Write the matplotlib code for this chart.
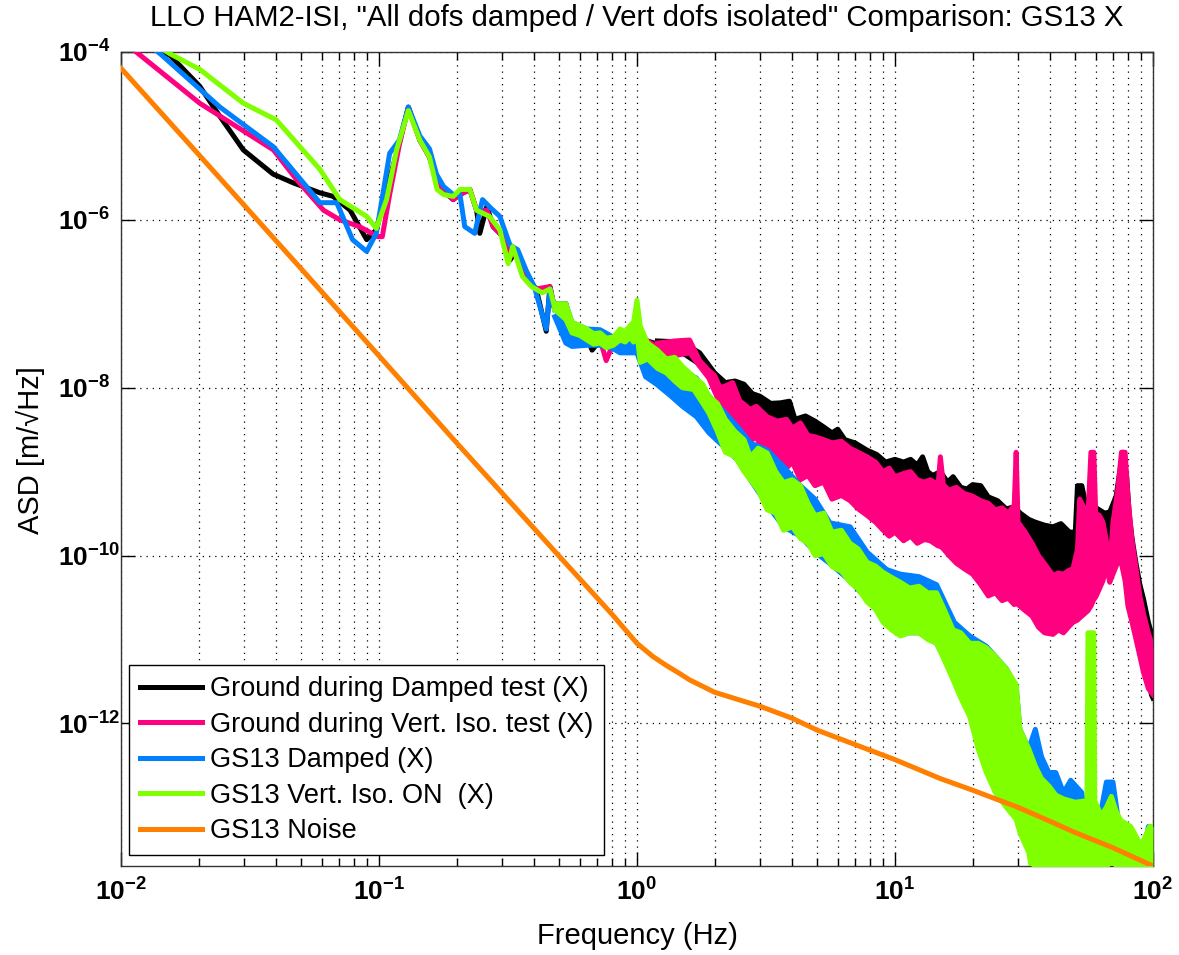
import numpy as np
import matplotlib
matplotlib.use('Agg')
import matplotlib.pyplot as plt
from matplotlib.ticker import FuncFormatter, NullLocator

plt.rcParams['font.family'] = ['Liberation Sans', 'DejaVu Sans']
plt.rcParams['mathtext.fontset'] = 'custom'
plt.rcParams['mathtext.rm'] = 'Liberation Sans'
plt.rcParams['mathtext.it'] = 'Liberation Sans:italic'
plt.rcParams['mathtext.bf'] = 'Liberation Sans:bold'

# ---- Ground during Damped test (X) ----
# low-frequency trace: frequency [Hz], ASD [m/rtHz]
gd_f = [0.010, 0.0155, 0.0202, 0.0242, 0.0298, 0.0389, 0.0466, 0.059, 0.0665, 0.0773,
        0.0896, 0.0977, 0.107, 0.118, 0.130, 0.144, 0.157, 0.167, 0.178, 0.194,
        0.206, 0.225, 0.239, 0.246, 0.262, 0.277, 0.312, 0.322, 0.342, 0.372,
        0.407, 0.445, 0.46, 0.48, 0.53, 0.56, 0.64, 0.67, 0.72, 0.81, 0.9, 1.0, 1.1, 1.2]
gd_asd = [1.8e-4, 9.1e-5, 3.9e-5, 1.7e-5, 6.8e-6, 3.5e-6, 2.75e-6, 2.1e-6, 1.9e-6, 1.3e-6,
          5.8e-7, 7.6e-7, 2.3e-6, 6.8e-6, 2.2e-5, 8.9e-6, 5.6e-6, 3.0e-6, 2.2e-6, 1.74e-6,
          2.0e-6, 2.3e-6, 1.3e-6, 6.9e-7, 1.45e-6, 8.3e-7, 5.75e-7, 3.3e-7, 4.4e-7, 2.1e-7,
          1.5e-7, 4.7e-8, 1.6e-7, 8.5e-8, 1.0e-7, 4.9e-8, 4.0e-8, 2.8e-8, 3.7e-8, 3.4e-8,
          3.0e-8, 3.6e-8, 3.6e-8, 3.3e-8]
# noisy part: frequency, lower envelope, upper envelope
gd_band = np.array([
    [1.2, 3.0e-8, 3.6e-8], [1.5, 2.6e-8, 3.5e-8], [1.75, 1.9e-8, 2.6e-8], [2.0, 1.1e-8, 1.5e-8],
    [2.2, 8e-9, 1.15e-8], [2.4, 6e-9, 1.2e-8], [2.6, 5e-9, 1.1e-8], [2.8, 4e-9, 8.5e-9],
    [3.0, 3.5e-9, 7.9e-9], [3.3, 3e-9, 6.5e-9], [3.6, 2.6e-9, 6.6e-9], [3.9, 2.3e-9, 6.9e-9],
    [4.1, 2.0e-9, 4.2e-9], [4.5, 1.8e-9, 4.6e-9], [4.9, 1.5e-9, 4.0e-9], [5.3, 1.2e-9, 3.4e-9],
    [5.7, 1.0e-9, 2.9e-9], [6.0, 9.5e-10, 3.2e-9], [6.4, 8.5e-10, 2.4e-9], [7.0, 7e-10, 2.2e-9],
    [7.8, 6e-10, 1.8e-9], [8.5, 5e-10, 1.6e-9], [9.2, 4.5e-10, 1.3e-9], [10, 4e-10, 1.4e-9],
    [10.8, 3.8e-10, 1.3e-9], [11.5, 3.5e-10, 1.4e-9], [12.2, 3.2e-10, 1.2e-9], [12.8, 3e-10, 1.5e-9],
    [13.4, 2.8e-10, 1.0e-9], [14, 2.5e-10, 9e-10], [15, 2.3e-10, 1.0e-9], [16, 2.1e-10, 7.5e-10],
    [16.8, 2e-10, 8.7e-10], [18, 1.7e-10, 6.5e-10], [19, 1.5e-10, 6.2e-10], [20, 1.4e-10, 7e-10],
    [21.5, 1.3e-10, 6.8e-10], [23, 1.15e-10, 5e-10], [25, 1.0e-10, 4.5e-10], [27, 8.5e-11, 3.6e-10],
    [29, 7.5e-11, 3.8e-10], [30.6, 7e-11, 3.2e-10], [33, 6.5e-11, 2.7e-10], [35, 6e-11, 2.5e-10],
    [38, 5.8e-11, 2.3e-10], [41, 5.5e-11, 2.2e-10], [44, 5.8e-11, 2.4e-10], [47.5, 6.2e-11, 1.9e-10],
    [50, 9e-11, 1.9e-10], [51, 1.5e-10, 6.8e-10], [53, 1.5e-10, 6.8e-10], [55, 1.5e-10, 4e-10],
    [58, 1.5e-10, 4e-10], [62, 1.5e-10, 3.5e-10], [65, 1.3e-10, 3.2e-10], [68, 1.2e-10, 3.3e-10],
    [72, 2e-10, 5.1e-10], [74, 3e-10, 9e-10], [76.5, 4e-10, 1.7e-9], [79, 2.5e-10, 9e-10],
    [81, 1e-10, 3e-10], [83, 6e-11, 1.6e-10], [86, 3e-11, 8e-11], [89, 1.5e-11, 4.5e-11],
    [92, 1e-11, 3e-11], [96, 4e-12, 1.6e-11], [98.6, 2.2e-12, 1.2e-11], [100, 2.0e-12, 1.0e-11]])

# ---- Ground during Vert. Iso. test (X) ----
gv_f = [0.010, 0.0202, 0.039, 0.048, 0.061, 0.0705, 0.084, 0.099, 0.103, 0.11, 0.12, 0.130,
        0.144, 0.157, 0.167, 0.178, 0.194, 0.206, 0.225, 0.239, 0.262, 0.277, 0.312, 0.322,
        0.342, 0.372, 0.407, 0.46, 0.48, 0.53, 0.56, 0.64, 0.72, 0.76, 0.81, 0.9, 1.0, 1.1, 1.2]
gv_asd = [1.4e-4, 2.45e-5, 6.8e-6, 3.0e-6, 1.3e-6, 1.0e-6, 8.3e-7, 6.3e-7, 6.3e-7, 2.0e-6,
          7.9e-6, 2.2e-5, 8.9e-6, 5.6e-6, 3.0e-6, 2.2e-6, 1.74e-6, 2.0e-6, 2.3e-6, 1.3e-6,
          1.3e-6, 8.3e-7, 5.75e-7, 3.6e-7, 4.4e-7, 2.1e-7, 1.5e-7, 1.6e-7, 8.5e-8, 1.0e-7,
          4.9e-8, 4.0e-8, 3.7e-8, 2.1e-8, 3.4e-8, 3.0e-8, 3.6e-8, 3.6e-8, 3.0e-8]
gv_band = np.array([
    [1.2, 2.6e-8, 3.4e-8], [1.4, 2.4e-8, 3.6e-8], [1.6, 2.6e-8, 3.7e-8], [1.75, 1.8e-8, 2.1e-8],
    [1.9, 1.3e-8, 1.6e-8], [2.0, 9e-9, 1.4e-8], [2.1, 6.5e-9, 1.0e-8], [2.2, 5.5e-9, 1.05e-8],
    [2.35, 3.5e-9, 1.15e-8], [2.5, 3.8e-9, 7e-9], [2.75, 2.3e-9, 5.5e-9], [2.9, 2.6e-9, 6e-9],
    [3.2, 1.3e-9, 4.5e-9], [3.5, 1.6e-9, 4.0e-9], [3.8, 1.1e-9, 4.2e-9], [4.0, 1.3e-9, 3.3e-9],
    [4.3, 8e-10, 3.8e-9], [4.6, 9e-10, 2.7e-9], [4.9, 6.8e-10, 2.6e-9], [5.3, 7.5e-10, 2.4e-9],
    [5.7, 4.7e-10, 2.2e-9], [6.2, 5.2e-10, 2.3e-9], [6.7, 4.5e-10, 1.9e-9], [7.2, 3.6e-10, 1.7e-9],
    [7.8, 3.0e-10, 1.5e-9], [8.4, 2.5e-10, 1.3e-9], [9.0, 2.0e-10, 1.0e-9], [9.5, 1.7e-10, 1.1e-9],
    [10, 1.9e-10, 8.7e-10], [10.8, 1.5e-10, 9.5e-10], [11.5, 1.7e-10, 1.0e-9], [12.2, 1.4e-10, 8e-10],
    [13, 1.55e-10, 7.5e-10], [13.7, 1.5e-10, 8e-10], [14.7, 1.3e-10, 7e-10], [15, 1.3e-10, 1.5e-9],
    [15.4, 1.2e-10, 7e-10], [16.2, 1.0e-10, 6e-10], [17.3, 8.1e-11, 6.5e-10], [18.5, 7e-11, 5.5e-10],
    [20, 6e-11, 5.1e-10], [21.5, 4.5e-11, 4.5e-10], [23, 3.3e-11, 4.2e-10], [24.5, 3.6e-11, 3.5e-10],
    [26, 2.9e-11, 3.7e-10], [27.5, 3.1e-11, 3.2e-10], [29, 2.6e-11, 4.0e-10], [29.5, 2.8e-11, 1.7e-9],
    [30, 2.6e-11, 2.5e-10], [32, 2.2e-11, 1.9e-10], [34, 1.9e-11, 1.4e-10], [36, 1.4e-11, 1.0e-10],
    [38, 1.2e-11, 8e-11], [41, 1.15e-11, 5.8e-11], [43, 1.3e-11, 6.2e-11], [45, 1.2e-11, 6e-11],
    [47, 1.4e-11, 6.6e-11], [49, 1.6e-11, 7e-11], [51, 1.7e-11, 1.2e-10], [52, 1.8e-11, 4.7e-10],
    [56, 2.2e-11, 3e-10], [57.5, 2.5e-11, 1.7e-9], [59, 3e-11, 1.7e-9], [60, 3.2e-11, 3.2e-10],
    [62, 4e-11, 3.0e-10], [64, 5e-11, 2.5e-10], [66, 7.6e-11, 1.5e-10], [67, 6e-11, 8e-11],
    [68, 4.8e-11, 7e-11], [70, 6e-11, 2.5e-10], [73, 8.3e-11, 6e-10], [75.5, 8e-11, 1.7e-9],
    [78, 5e-11, 1.7e-9], [80, 2.5e-11, 5e-10], [83, 1.6e-11, 1.5e-10], [86, 1.0e-11, 7e-11],
    [89, 6.3e-12, 3.3e-11], [92, 4e-12, 2.0e-11], [96, 2.6e-12, 1.2e-11], [100, 2.2e-12, 8e-12]])

# ---- GS13 Damped (X) ----
sd_f = [0.010, 0.0142, 0.0242, 0.039, 0.059, 0.0686, 0.079, 0.0896, 0.0977, 0.110, 0.120, 0.130,
        0.144, 0.157, 0.167, 0.178, 0.194, 0.206, 0.215, 0.235, 0.252, 0.27, 0.294, 0.322, 0.345,
        0.372, 0.4, 0.445, 0.46, 0.48]
sd_asd = [2.2e-4, 9.5e-5, 2.2e-5, 7.4e-6, 1.6e-6, 1.6e-6, 5.8e-7, 4.2e-7, 6.9e-7, 6.2e-6, 8.9e-6,
          2.2e-5, 1.0e-5, 7e-6, 3.5e-6, 2.5e-6, 2.0e-6, 2.0e-6, 8.3e-7, 6.9e-7, 1.74e-6, 1.4e-6,
          1.1e-6, 5e-7, 4.4e-7, 2.5e-7, 1.6e-7, 5e-8, 1.5e-7, 8.5e-8]
sd_band = np.array([
    [0.48, 7e-8, 1.0e-7], [0.53, 3.4e-8, 1.0e-7], [0.56, 3.1e-8, 6e-8], [0.64, 3.2e-8, 5e-8],
    [0.72, 3.2e-8, 4.9e-8], [0.81, 2.9e-8, 4.0e-8], [0.86, 2.6e-8, 4.5e-8], [0.94, 2.6e-8, 4.5e-8],
    [1.0, 2.6e-8, 5e-8], [1.08, 1.35e-8, 3e-8], [1.19, 1.1e-8, 2.6e-8], [1.35, 8e-9, 2.0e-8],
    [1.5, 6e-9, 1.6e-8], [1.7, 4.5e-9, 1.3e-8], [1.9, 2.9e-9, 8e-9], [2.2, 1.9e-9, 5e-9],
    [2.5, 1.3e-9, 3.2e-9], [2.75, 8e-10, 2.2e-9], [3.2, 4e-10, 1.8e-9], [3.7, 2.2e-10, 1.15e-9],
    [4.3, 1.7e-10, 6.8e-10], [4.9, 1.1e-10, 4.7e-10], [5.6, 8e-11, 2.45e-10], [6.7, 5e-11, 2.2e-10],
    [7.8, 3e-11, 1.1e-10], [9.3, 1.7e-11, 6.8e-11], [10.5, 1.2e-11, 6e-11], [12.4, 1.2e-11, 5.6e-11],
    [14.5, 9e-12, 4.5e-11], [17, 3.5e-12, 1.6e-11], [19.5, 1.3e-12, 1.1e-11], [22.6, 3e-13, 8.3e-12],
    [24.5, 1.8e-13, 6.3e-12], [27, 1.1e-13, 4.5e-12], [29.5, 8e-14, 2.75e-12], [30.5, 6e-14, 8.5e-13],
    [33, 4e-14, 5e-13], [35, 3e-14, 8.5e-13], [37, 3e-14, 4e-13], [39.5, 9.5e-14, 2.6e-13],
    [42, 8e-14, 2.6e-13], [45, 1.0e-13, 1.5e-13], [48, 9e-14, 2.1e-13], [53, 8e-14, 1.5e-13],
    [55, 6e-14, 7.2e-14], [62, 5e-14, 7.2e-14], [66, 6e-14, 2.0e-13], [70, 5e-14, 2.0e-13],
    [74, 4e-14, 5.9e-14], [80, 3.5e-14, 4.2e-14], [90, 2.5e-14, 3.8e-14], [94, 3e-14, 3.8e-14],
    [96, 5e-14, 5.9e-14], [100, 5e-14, 5.9e-14]])

# ---- GS13 Vert. Iso. ON (X) ----
si_f = [0.010, 0.0155, 0.0202, 0.0298, 0.040, 0.059, 0.0705, 0.0896, 0.0977, 0.107, 0.117, 0.130,
        0.144, 0.157, 0.168, 0.178, 0.194, 0.206, 0.225, 0.239, 0.268, 0.294, 0.317, 0.33, 0.36,
        0.39, 0.43, 0.46, 0.48]
si_asd = [2.2e-4, 9.5e-5, 6.2e-5, 2.45e-5, 1.55e-5, 4.0e-6, 1.74e-6, 1.1e-6, 7.9e-7, 1.74e-6,
          6.8e-6, 2.0e-5, 8.9e-6, 5.6e-6, 2.3e-6, 2.0e-6, 1.9e-6, 2.3e-6, 2.3e-6, 1.3e-6, 1.1e-6,
          7.6e-7, 3.0e-7, 4.8e-7, 2.1e-7, 1.6e-7, 1.35e-7, 1.5e-7, 9e-8]
si_band = np.array([
    [0.48, 8.5e-8, 1.0e-7], [0.53, 6.5e-8, 1.0e-7], [0.56, 4.5e-8, 6.0e-8], [0.6, 4.2e-8, 5.5e-8],
    [0.64, 3.7e-8, 5.0e-8], [0.68, 3.3e-8, 4.4e-8], [0.72, 3.4e-8, 4.5e-8], [0.76, 3.0e-8, 3.9e-8],
    [0.81, 3.2e-8, 4.0e-8], [0.86, 3.7e-8, 5.0e-8], [0.9, 3.5e-8, 4.6e-8], [0.94, 4.0e-8, 5.5e-8],
    [0.97, 3.5e-8, 6e-8], [1.0, 4.5e-8, 1.1e-7], [1.03, 2.0e-8, 5.4e-8], [1.1, 2.2e-8, 3.4e-8],
    [1.2, 1.7e-8, 2.8e-8], [1.3, 1.5e-8, 2.2e-8], [1.4, 1.2e-8, 2.3e-8], [1.5, 1.0e-8, 1.8e-8],
    [1.66, 9.5e-9, 1.35e-8], [1.8, 6.5e-9, 1.1e-8], [1.9, 5e-9, 7.9e-9], [2.05, 3.0e-9, 6.5e-9],
    [2.2, 1.7e-9, 4.2e-9], [2.4, 1.5e-9, 3.0e-9], [2.6, 1.0e-9, 2.4e-9], [2.75, 8e-10, 1.5e-9],
    [2.95, 6e-10, 1.9e-9], [3.2, 3.5e-10, 1.66e-9], [3.45, 3.2e-10, 1.0e-9], [3.7, 2.0e-10, 7.4e-10],
    [4.0, 2.2e-10, 8e-10], [4.3, 1.6e-10, 6.8e-10], [4.6, 1.4e-10, 4.2e-10], [4.9, 1.0e-10, 3.0e-10],
    [5.3, 1.05e-10, 3.2e-10], [5.7, 7.4e-11, 1.9e-10], [6.2, 6.5e-11, 2.0e-10], [6.7, 4.8e-11, 1.4e-10],
    [7.2, 4.0e-11, 1.2e-10], [7.8, 2.8e-11, 8.3e-11], [8.4, 2.3e-11, 7.5e-11], [9, 1.6e-11, 6.3e-11],
    [9.7, 1.3e-11, 5.5e-11], [10.5, 1.1e-11, 4.8e-11], [11.4, 1.2e-11, 4.1e-11], [12.4, 1.2e-11, 4.3e-11],
    [13.4, 1.0e-11, 3.6e-11], [14.5, 9e-12, 3.6e-11], [15.6, 5.5e-12, 2.2e-11], [16.8, 3.3e-12, 1.3e-11],
    [18, 2.0e-12, 1.2e-11], [19.5, 1.2e-12, 9e-12], [21, 5e-13, 9e-12], [22.6, 2.6e-13, 8e-12],
    [24.5, 1.5e-13, 6.3e-12], [27, 1.0e-13, 4.5e-12], [29.5, 7.2e-14, 2.9e-12], [30.5, 5e-14, 8.5e-13],
    [33, 2.9e-14, 5e-13], [35, 1e-14, 3.1e-13], [37, 1e-14, 2.2e-13], [39.5, 1e-14, 1.8e-13],
    [42, 1e-14, 1.4e-13], [45, 1e-14, 1.26e-13], [50, 1e-14, 1.15e-13], [55.5, 1e-14, 1.2e-13],
    [56, 1e-14, 1.2e-11], [59, 1e-14, 1.2e-11], [59.5, 1e-14, 1.2e-13], [63, 1e-14, 8e-14],
    [66, 1e-14, 1.0e-13], [69, 3e-14, 1.35e-13], [72, 1e-14, 9e-14], [75, 1e-14, 7e-14],
    [82, 1e-14, 5.9e-14], [90, 1e-14, 3.5e-14], [97, 1e-14, 5.9e-14], [100, 1e-14, 5.9e-14]])

# ---- GS13 Noise ----
noise_f = [0.01, 0.02, 0.05, 0.1, 0.2, 0.5, 0.8, 1.0, 1.15, 1.3, 1.45, 1.6, 2.0, 2.5, 3.0,
           4.0, 5.0, 7.0, 10, 15, 20, 30, 40, 50, 70, 100]
noise_asd = [6.4e-5, 6.0e-6, 2.6e-7, 2.4e-8, 2.2e-9, 9.8e-11, 2.0e-11, 9.0e-12, 6.3e-12,
             4.9e-12, 4.0e-12, 3.3e-12, 2.35e-12, 1.9e-12, 1.6e-12, 1.15e-12, 8.3e-13, 5.6e-13,
             3.7e-13, 2.2e-13, 1.6e-13, 1.0e-13, 6.8e-14, 5.0e-14, 3.3e-14, 2.0e-14]

title = 'LLO HAM2-ISI, "All dofs damped / Vert dofs isolated" Comparison: GS13 X'
labels = ['Ground during Damped test (X)', 'Ground during Vert. Iso. test (X)',
          'GS13 Damped (X)', 'GS13 Vert. Iso. ON  (X)', 'GS13 Noise']
colors = ['#000000', '#ff0080', '#0080ff', '#80ff00', '#ff8000']

lw = 3.6
fig = plt.figure(figsize=(11.79, 9.55), dpi=100)
ax = fig.add_axes([0.1026, 0.0932, 0.8753, 0.8524])

series = [(gd_f, gd_asd, gd_band), (gv_f, gv_asd, gv_band),
          (sd_f, sd_asd, sd_band), (si_f, si_asd, si_band)]

handles = []
for i, ((f, a, band), c, lab) in enumerate(zip(series, colors, labels)):
    z = 2 + i
    bf, lo, hi = band[:, 0], band[:, 1], band[:, 2]
    h, = ax.loglog(f, a, color=c, lw=lw, solid_joinstyle='round', label=lab, zorder=z)
    ax.fill_between(bf, lo, hi, color=c, lw=0, zorder=z)
    ax.loglog(bf, lo, color=c, lw=lw, solid_joinstyle='round', zorder=z)
    ax.loglog(bf, hi, color=c, lw=lw, solid_joinstyle='round', zorder=z)
    handles.append(h)

h, = ax.loglog(noise_f, noise_asd, color=colors[4], lw=lw, label=labels[4], zorder=7)
handles.append(h)

ax.set_xlim(1e-2, 1e2)
ax.set_ylim(2e-14, 1e-4)
ax.set_yticks([1e-12, 1e-10, 1e-8, 1e-6, 1e-4])
ax.yaxis.set_minor_locator(NullLocator())
ax.xaxis.set_minor_formatter(FuncFormatter(lambda v, p: ''))
sci = FuncFormatter(lambda v, p: r'$\mathbf{10^{%d}}$' % round(np.log10(v)))
ax.xaxis.set_major_formatter(sci)
ax.yaxis.set_major_formatter(sci)

dots = (0, (1, 4))
ax.grid(True, which='major', axis='y', color='k', ls=dots, lw=0.9)
ax.grid(True, which='both', axis='x', color='k', ls=dots, lw=0.9)
ax.tick_params(which='both', direction='in', top=True, right=True, labelsize=19, width=1)
ax.tick_params(which='major', length=10)
ax.tick_params(which='minor', length=6)
ax.tick_params(axis='x', pad=9)
ax.tick_params(axis='y', pad=45)
for lab in ax.get_yticklabels():
    lab.set_horizontalalignment('left')
for s in ax.spines.values():
    s.set_linewidth(1)
    s.set_color('#333333')

ax.set_xlabel('Frequency (Hz)', fontsize=21, va='center')
ax.xaxis.set_label_coords(0.5, -0.086)
ax.set_ylabel('ASD [m/\u221aHz]', fontsize=21, va='center')
ax.yaxis.set_label_coords(-0.088, 0.511)
ax.set_title(title, fontsize=21.2, pad=19)

leg = ax.legend(handles=handles, loc='lower left', bbox_to_anchor=(0.0078, 0.0135),
                borderaxespad=0, fancybox=False, framealpha=1, edgecolor='k',
                fontsize=19.5, handlelength=2.3, handletextpad=0.3, labelspacing=0.35,
                borderpad=0.4)
leg.get_frame().set_linewidth(1)
leg.set_zorder(20)

fig.savefig('out.png', dpi=100)
